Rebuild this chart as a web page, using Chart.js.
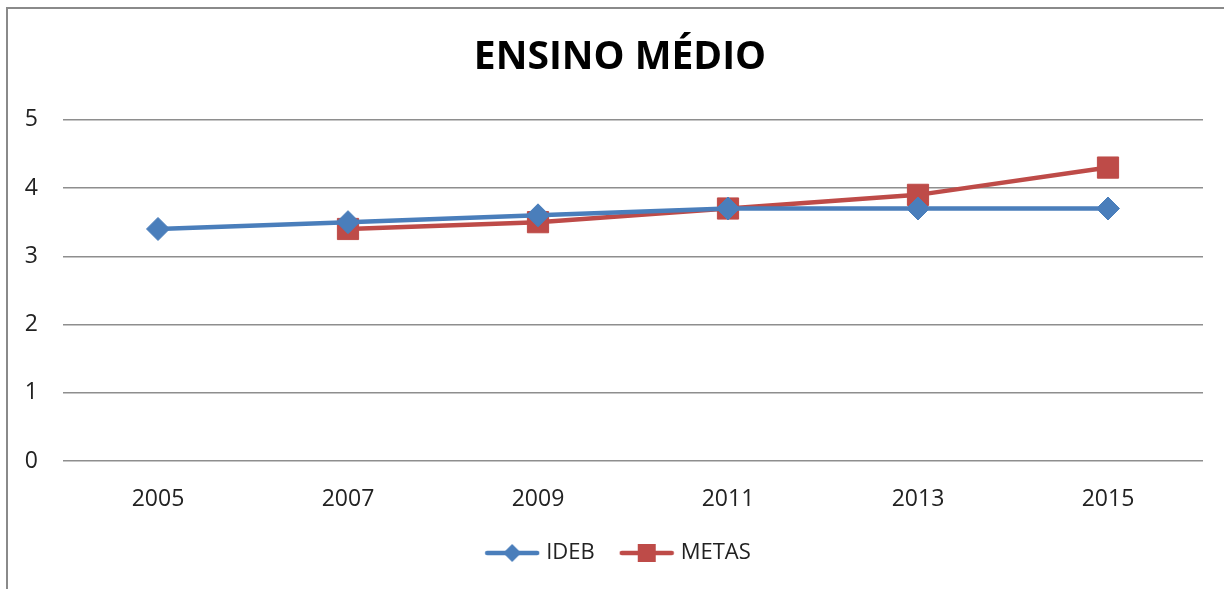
<!DOCTYPE html>
<html>
<head>
<meta charset="utf-8">
<script src="https://cdn.jsdelivr.net/npm/chart.js@4/dist/chart.umd.min.js"></script>
<style>
  html, body { margin: 0; padding: 0; background: #fff; overflow: hidden; width: 1224px; height: 589px; }
  #frame { position: absolute; left: 6px; top: 7px; width: 1240px; height: 640px; border: 2px solid #8a8a8a; background: #fff; }
  #myChart { position: absolute; left: 0; top: 0; }
</style>
</head>
<body>
<div id="frame"><canvas id="myChart" width="1224" height="565"></canvas></div>
<script>
let years = ['2005', '2007', '2009', '2011', '2013', '2015'];
let ideb = [3.4, 3.5, 3.6, 3.7, 3.7, 3.7];
let metas = [null, 3.4, 3.5, 3.7, 3.9, 4.3];

let blue = '#4A7EBB';
let red = '#BE4B48';

// little line + marker pictures for the legend
function legendIcon(color, shape) {
    let c = document.createElement('canvas');
    c.width = 56;
    c.height = 24;
    let g = c.getContext('2d');
    g.strokeStyle = color;
    g.lineWidth = 4.5;
    g.lineCap = 'round';
    g.beginPath();
    g.moveTo(3, 12);
    g.lineTo(53, 12);
    g.stroke();
    g.fillStyle = color;
    g.beginPath();
    if (shape === 'diamond') {
        g.moveTo(28, 3); g.lineTo(37, 12); g.lineTo(28, 21); g.lineTo(19, 12);
        g.closePath();
    } else {
        g.rect(19, 3, 18, 18);
    }
    g.fill();
    return c;
}
let icons = [legendIcon(blue, 'diamond'), legendIcon(red, 'square')];

let ctx = document.getElementById('myChart').getContext('2d');

let data = {
    labels: years,
    datasets: [{
        label: 'IDEB',
        data: ideb,
        borderColor: blue,
        backgroundColor: blue,
        borderWidth: 4.5,
        pointStyle: 'rectRot',
        pointRadius: 11.5,
        pointBorderWidth: 1,
        tension: 0
    }, {
        label: 'METAS',
        data: metas,
        borderColor: red,
        backgroundColor: red,
        borderWidth: 4.5,
        pointStyle: 'rect',
        pointRadius: 15,
        pointBorderWidth: 1,
        tension: 0
    }]
};

let options = {
    responsive: false,
    animation: false,
    layout: { padding: 0 },
    plugins: {
        title: {
            display: true,
            text: 'ENSINO MÉDIO',
            color: '#000',
            font: { family: 'Open Sans', size: 39, weight: 'bold', lineHeight: 1.2 },
            padding: { top: 25, bottom: 39 }
        },
        legend: {
            position: 'bottom',
            labels: {
                usePointStyle: true,
                pointStyleWidth: 46,
                padding: 29,
                color: '#222',
                font: { family: 'Open Sans', size: 22 },
                generateLabels: function (chart) {
                    let items = Chart.defaults.plugins.legend.labels.generateLabels(chart);
                    items.forEach(function (item, i) { item.pointStyle = icons[i]; });
                    return items;
                }
            }
        },
        tooltip: { enabled: false }
    },
    scales: {
        x: {
            offset: true,
            grid: { display: false },
            border: { display: false },
            ticks: { color: '#222', padding: 17, font: { family: 'Open Sans', size: 23 } },
            afterFit: function (scale) { scale.height = 52; }
        },
        y: {
            min: 0,
            max: 5,
            grid: { color: '#8e8e8e', lineWidth: 1.5, drawTicks: false },
            border: { display: false },
            ticks: { stepSize: 1, color: '#222', padding: 25, font: { family: 'Open Sans', size: 23 } },
            afterFit: function (scale) { scale.width = 55; }
        },
        y2: {
            position: 'right',
            display: true,
            grid: { display: false },
            border: { display: false },
            ticks: { display: false },
            afterFit: function (scale) { scale.width = 29; }
        }
    }
};

let myChart = new Chart(ctx, {
    type: 'line',
    data: data,
    options: options
});
</script>
</body>
</html>
